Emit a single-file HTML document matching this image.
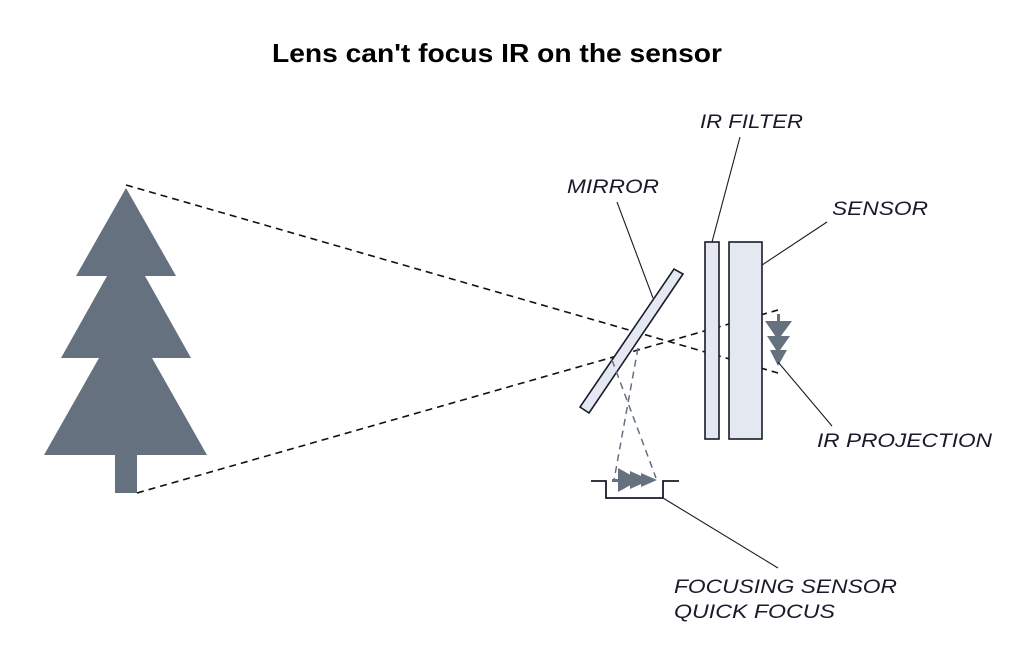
<!DOCTYPE html>
<html><head><meta charset="utf-8"><style>
html,body{margin:0;padding:0;background:#fff;}
svg{display:block;}
text{font-family:"Liberation Sans",Arial,sans-serif;}
.l{font-size:19px;font-style:italic;fill:#1a1a2a;}
</style></head><body>
<svg width="1024" height="652" viewBox="0 0 1024 652" xmlns="http://www.w3.org/2000/svg">
<rect width="1024" height="652" fill="#fff"/>
<text x="272" y="62" font-size="26" font-weight="bold" fill="#000" textLength="450" lengthAdjust="spacingAndGlyphs">Lens can't focus IR on the sensor</text>

<!-- tree -->
<g fill="#65717e">
<polygon points="126,188 176,276 145,276 191,358 152,358 207,455 44,455 99,358 61,358 107,276 76,276"/>
<rect x="115" y="454" width="22" height="39"/>
</g>

<!-- main dashed rays -->
<g stroke="#111" stroke-width="1.6" stroke-dasharray="7,5" fill="none">
<line x1="126" y1="185" x2="778" y2="373"/>
<line x1="137" y1="493" x2="778" y2="310"/>
</g>

<!-- mirror -->
<polygon points="580,407 589,413 683,274 674,269" fill="#e4e8f0" stroke="#1a1a2a" stroke-width="1.6"/>
<!-- filter & sensor -->
<rect x="705" y="242" width="14" height="197" fill="#e4e8f0" stroke="#1a1a2a" stroke-width="1.6"/>
<rect x="729" y="242" width="33" height="197" fill="#e4e8f0" stroke="#1a1a2a" stroke-width="1.6"/>

<!-- grey dashed reflection -->
<g stroke="#65717e" stroke-width="1.5" stroke-dasharray="7,5" fill="none">
<line x1="638" y1="348" x2="614" y2="480"/>
<line x1="612" y1="360" x2="656" y2="478"/>
</g>

<!-- IR projection arrows -->
<g fill="#65717e">
<rect x="777" y="314" width="3" height="10"/>
<polygon points="765,321 792,321 778,340"/>
<polygon points="767,336 790,336 778,353"/>
<polygon points="770,350 787,350 778,366"/>
</g>

<!-- focusing sensor -->
<polyline points="591,481 606,481 606,498 663,498 663,481 679,481" fill="none" stroke="#1a1a2a" stroke-width="1.8"/>
<g fill="#65717e">
<rect x="612" y="479" width="8" height="3"/>
<polygon points="618,468 618,492 640,480"/>
<polygon points="630,471 630,489 650,480"/>
<polygon points="641,473 641,487 657,480"/>
</g>

<!-- leaders -->
<g stroke="#1a1a2a" stroke-width="1.1" fill="none">
<line x1="617" y1="202" x2="653" y2="298"/>
<line x1="740" y1="137" x2="712" y2="242"/>
<line x1="827" y1="222" x2="762" y2="265"/>
<line x1="778" y1="362" x2="832" y2="426"/>
<line x1="663" y1="498" x2="778" y2="568"/>
</g>

<text class="l" x="567" y="193" textLength="92" lengthAdjust="spacingAndGlyphs">MIRROR</text>
<text class="l" x="700" y="128" textLength="103" lengthAdjust="spacingAndGlyphs">IR FILTER</text>
<text class="l" x="832" y="215" textLength="96" lengthAdjust="spacingAndGlyphs">SENSOR</text>
<text class="l" x="817" y="447" textLength="175" lengthAdjust="spacingAndGlyphs">IR PROJECTION</text>
<text class="l" x="674" y="593" textLength="223" lengthAdjust="spacingAndGlyphs">FOCUSING SENSOR</text>
<text class="l" x="674" y="618" textLength="161" lengthAdjust="spacingAndGlyphs">QUICK FOCUS</text>
</svg>
</body></html>
